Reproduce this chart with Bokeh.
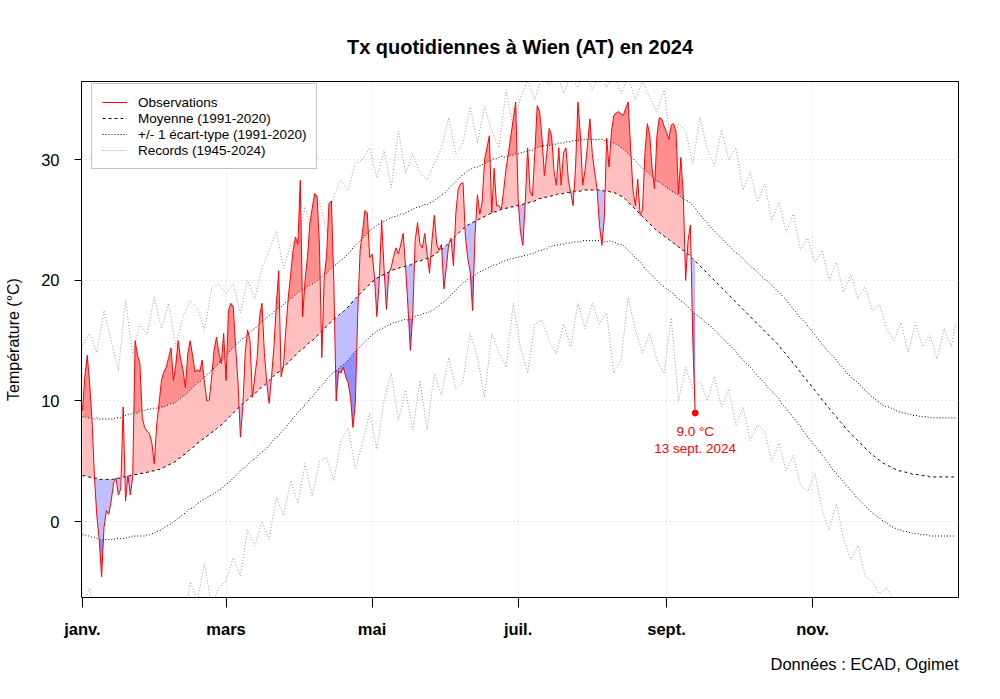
import numpy as np
from bokeh.plotting import figure
from bokeh.models import FixedTicker, Range1d, Legend, LegendItem, Title
from bokeh.embed import file_html
from bokeh.resources import INLINE
from bokeh.core.properties import value

# ---------------- data ----------------
month_days = [1, 61, 122, 183, 245, 306]
month_labels = ["janv.", "mars", "mai", "juil.", "sept.", "nov."]
y_ticks = [0, 10, 20, 30]

# daily maximum temperature 2024 (1 Jan .. 13 Sep)
obs_tx = [
    9.2, 12.0, 13.8, 11.5, 8.4, 3.7, 0.5, -1.5, -4.6, -0.5,
    0.9, 0.6, 1.7, 3.2, 3.6, 2.2, 2.7, 9.5, 1.7, 3.8,
    2.2, 3.7, 15.0, 13.8, 13.1, 8.6, 7.8, 7.5, 7.3, 6.5,
    4.8, 8.0, 9.8, 11.7, 12.4, 12.8, 13.6, 14.4, 11.7, 13.0,
    15.0, 13.5, 12.6, 11.1, 13.9, 15.0, 13.8, 12.4, 12.6, 12.4,
    13.4, 11.5, 10.0, 10.1, 12.0, 14.2, 15.3, 14.0, 13.1, 15.6,
    11.7, 17.5, 18.1, 17.8, 14.5, 11.5, 7.0, 9.5, 14.0, 15.9,
    15.0, 10.3, 12.0, 13.6, 17.0, 18.1, 14.0, 11.5, 9.8, 12.0,
    14.5, 18.0, 20.8, 12.0, 13.0, 16.0, 18.6, 20.5, 22.5, 23.6,
    23.0, 28.3, 17.0, 20.0, 21.9, 24.7, 26.0, 27.2, 27.0, 23.0,
    13.6, 20.3, 22.0, 26.4, 26.6, 20.0, 10.0, 12.5, 12.3, 12.8,
    12.0, 11.5, 10.3, 7.8, 9.8, 17.2, 22.5, 24.0, 25.8, 25.6,
    21.9, 22.2, 20.3, 17.0, 20.0, 25.0, 21.0, 17.6, 20.6, 21.1,
    22.0, 22.7, 22.2, 23.0, 23.9, 21.1, 17.8, 14.2, 17.2, 23.3,
    24.8, 23.0, 22.7, 23.9, 22.2, 20.6, 23.3, 25.4, 23.0, 22.5,
    23.0, 19.3, 21.0, 23.0, 23.5, 21.2, 25.6, 27.6, 28.0, 28.1,
    23.6, 21.8, 20.7, 17.5, 23.7, 27.1, 25.5, 26.5, 30.0, 31.0,
    32.0, 25.6, 29.3, 26.2, 26.2, 25.9, 27.5, 29.3, 30.6, 32.0,
    33.4, 34.8, 26.8, 24.0, 22.9, 26.5, 31.0, 27.4, 27.0, 30.6,
    34.5, 34.0, 31.8, 28.7, 30.5, 32.6, 32.0, 29.1, 27.9, 31.0,
    27.9, 30.6, 31.0, 28.3, 27.3, 26.2, 29.3, 34.8, 32.1, 27.9,
    29.2, 31.2, 33.4, 30.5, 29.0, 27.6, 24.6, 22.9, 25.1, 31.8,
    29.4, 32.3, 33.7, 33.9, 34.0, 33.8, 33.7, 34.3, 34.8, 31.0,
    27.5, 26.2, 28.4, 25.4, 25.9, 30.6, 33.0, 32.1, 29.3, 27.6,
    32.0, 33.5, 33.4, 32.8, 32.3, 31.7, 32.9, 33.0, 32.3, 27.2,
    30.2, 27.2, 20.0, 23.3, 24.6, 15.0, 9.0,
]

# 1991-2020 daily normal (mean) of Tx, 1 Jan .. 31 Dec
mean_tx = [
    3.8, 3.8, 3.7, 3.7, 3.6, 3.6, 3.6, 3.5, 3.5, 3.5,
    3.5, 3.5, 3.5, 3.5, 3.6, 3.6, 3.6, 3.7, 3.7, 3.8,
    3.8, 3.9, 3.9, 3.9, 4.0, 4.0, 4.0, 4.1, 4.1, 4.2,
    4.2, 4.3, 4.3, 4.4, 4.5, 4.6, 4.7, 4.8, 4.9, 5.0,
    5.2, 5.3, 5.5, 5.6, 5.8, 6.0, 6.1, 6.3, 6.5, 6.6,
    6.8, 6.9, 7.1, 7.2, 7.4, 7.5, 7.7, 7.9, 8.0, 8.2,
    8.4, 8.6, 8.8, 9.0, 9.2, 9.4, 9.6, 9.8, 9.9, 10.1,
    10.3, 10.5, 10.6, 10.8, 11.0, 11.2, 11.3, 11.5, 11.7, 11.9,
    12.1, 12.3, 12.4, 12.6, 12.8, 13.0, 13.2, 13.4, 13.6, 13.8,
    14.0, 14.2, 14.3, 14.5, 14.7, 14.9, 15.0, 15.2, 15.4, 15.6,
    15.8, 16.0, 16.2, 16.4, 16.6, 16.8, 16.9, 17.1, 17.3, 17.4,
    17.6, 17.8, 18.0, 18.3, 18.5, 18.7, 18.9, 19.1, 19.3, 19.5,
    19.7, 19.9, 20.0, 20.2, 20.3, 20.4, 20.5, 20.6, 20.7, 20.8,
    20.9, 20.9, 21.0, 21.1, 21.1, 21.2, 21.2, 21.3, 21.4, 21.5,
    21.6, 21.6, 21.7, 21.8, 21.8, 21.9, 22.0, 22.1, 22.3, 22.4,
    22.6, 22.7, 22.9, 23.1, 23.3, 23.5, 23.7, 23.9, 24.1, 24.3,
    24.4, 24.6, 24.7, 24.8, 24.9, 25.0, 25.1, 25.2, 25.3, 25.4,
    25.5, 25.6, 25.7, 25.7, 25.8, 25.9, 25.9, 26.0, 26.0, 26.1,
    26.1, 26.2, 26.2, 26.3, 26.3, 26.4, 26.4, 26.5, 26.5, 26.6,
    26.7, 26.8, 26.8, 26.9, 26.9, 27.0, 27.0, 27.1, 27.1, 27.2,
    27.2, 27.2, 27.3, 27.3, 27.3, 27.4, 27.4, 27.4, 27.4, 27.5,
    27.5, 27.5, 27.5, 27.5, 27.5, 27.5, 27.5, 27.5, 27.4, 27.4,
    27.4, 27.3, 27.3, 27.2, 27.1, 27.0, 26.9, 26.7, 26.5, 26.3,
    26.1, 25.9, 25.7, 25.5, 25.3, 25.1, 24.9, 24.7, 24.5, 24.3,
    24.1, 24.0, 23.8, 23.7, 23.5, 23.4, 23.2, 23.1, 22.9, 22.8,
    22.6, 22.5, 22.3, 22.2, 22.0, 21.8, 21.6, 21.4, 21.2, 21.0,
    20.8, 20.6, 20.4, 20.2, 20.0, 19.8, 19.6, 19.4, 19.2, 19.0,
    18.8, 18.6, 18.4, 18.2, 18.0, 17.8, 17.6, 17.4, 17.2, 17.0,
    16.8, 16.6, 16.4, 16.2, 16.0, 15.8, 15.6, 15.4, 15.2, 15.0,
    14.8, 14.6, 14.3, 14.1, 13.9, 13.6, 13.4, 13.1, 12.9, 12.6,
    12.4, 12.1, 11.9, 11.6, 11.4, 11.1, 10.9, 10.6, 10.4, 10.1,
    9.9, 9.6, 9.4, 9.1, 8.9, 8.7, 8.4, 8.2, 8.0, 7.7,
    7.5, 7.3, 7.1, 6.9, 6.7, 6.5, 6.3, 6.1, 5.9, 5.7,
    5.5, 5.4, 5.2, 5.1, 4.9, 4.8, 4.7, 4.6, 4.5, 4.4,
    4.3, 4.2, 4.2, 4.1, 4.1, 4.0, 4.0, 3.9, 3.9, 3.9,
    3.8, 3.8, 3.8, 3.8, 3.7, 3.7, 3.7, 3.7, 3.7, 3.7,
    3.7, 3.7, 3.7, 3.7, 3.7, 3.7,
]

# 1991-2020 daily standard deviation of Tx
sd_tx = [
    4.9, 4.9, 4.9, 4.9, 4.9, 4.9, 5.0, 5.0, 5.0, 5.0,
    5.0, 5.0, 5.0, 5.0, 5.0, 5.0, 5.0, 5.1, 5.1, 5.1,
    5.1, 5.1, 5.1, 5.1, 5.2, 5.2, 5.2, 5.2, 5.2, 5.2,
    5.2, 5.1, 5.1, 5.1, 5.0, 5.0, 5.0, 5.0, 4.9, 4.9,
    4.9, 4.9, 4.9, 4.9, 4.9, 4.9, 5.0, 5.0, 5.0, 5.0,
    5.0, 5.1, 5.1, 5.1, 5.2, 5.2, 5.2, 5.3, 5.3, 5.3,
    5.3, 5.4, 5.4, 5.4, 5.4, 5.4, 5.4, 5.4, 5.4, 5.4,
    5.4, 5.4, 5.4, 5.4, 5.4, 5.4, 5.4, 5.4, 5.4, 5.3,
    5.3, 5.3, 5.3, 5.2, 5.2, 5.2, 5.1, 5.1, 5.0, 5.0,
    5.0, 4.9, 4.9, 4.8, 4.8, 4.7, 4.7, 4.6, 4.6, 4.5,
    4.5, 4.5, 4.4, 4.4, 4.4, 4.4, 4.4, 4.4, 4.4, 4.4,
    4.4, 4.4, 4.4, 4.4, 4.4, 4.4, 4.4, 4.4, 4.4, 4.4,
    4.4, 4.4, 4.4, 4.4, 4.4, 4.4, 4.4, 4.4, 4.4, 4.4,
    4.4, 4.4, 4.4, 4.4, 4.4, 4.4, 4.5, 4.5, 4.5, 4.5,
    4.5, 4.5, 4.5, 4.5, 4.5, 4.5, 4.5, 4.5, 4.5, 4.5,
    4.5, 4.5, 4.5, 4.5, 4.5, 4.5, 4.5, 4.5, 4.5, 4.5,
    4.5, 4.5, 4.5, 4.5, 4.5, 4.4, 4.4, 4.4, 4.4, 4.4,
    4.4, 4.4, 4.4, 4.4, 4.4, 4.4, 4.3, 4.3, 4.3, 4.3,
    4.3, 4.3, 4.3, 4.3, 4.3, 4.3, 4.3, 4.3, 4.3, 4.3,
    4.3, 4.3, 4.3, 4.3, 4.3, 4.2, 4.2, 4.2, 4.2, 4.2,
    4.2, 4.2, 4.2, 4.2, 4.2, 4.2, 4.2, 4.2, 4.2, 4.2,
    4.2, 4.2, 4.2, 4.2, 4.2, 4.2, 4.2, 4.2, 4.2, 4.2,
    4.1, 4.1, 4.1, 4.1, 4.1, 4.0, 4.0, 4.0, 4.0, 4.0,
    4.0, 4.0, 4.0, 4.0, 4.0, 4.1, 4.1, 4.1, 4.1, 4.1,
    4.1, 4.2, 4.2, 4.2, 4.2, 4.2, 4.2, 4.2, 4.3, 4.3,
    4.3, 4.3, 4.3, 4.4, 4.4, 4.4, 4.4, 4.3, 4.3, 4.2,
    4.2, 4.2, 4.1, 4.1, 4.1, 4.1, 4.1, 4.1, 4.1, 4.1,
    4.1, 4.1, 4.1, 4.1, 4.2, 4.2, 4.2, 4.2, 4.2, 4.2,
    4.2, 4.3, 4.3, 4.3, 4.3, 4.3, 4.4, 4.4, 4.4, 4.4,
    4.4, 4.4, 4.5, 4.5, 4.5, 4.5, 4.5, 4.5, 4.5, 4.5,
    4.5, 4.6, 4.6, 4.6, 4.6, 4.6, 4.6, 4.6, 4.6, 4.6,
    4.6, 4.6, 4.6, 4.7, 4.7, 4.7, 4.7, 4.7, 4.7, 4.7,
    4.7, 4.7, 4.7, 4.8, 4.8, 4.8, 4.8, 4.8, 4.8, 4.8,
    4.8, 4.8, 4.8, 4.8, 4.8, 4.8, 4.8, 4.9, 4.9, 4.9,
    4.9, 4.9, 4.9, 4.9, 4.9, 4.9, 4.9, 4.9, 4.9, 4.9,
    4.9, 4.9, 4.9, 4.9, 4.9, 4.9, 4.9, 4.9, 4.9, 4.9,
    4.9, 4.9, 4.9, 4.9, 4.9, 4.9,
]

# records 1945-2024, read every third day
rec_days = list(range(1, 366, 3)) + [366]
rec_max = [
    14.6, 15.6, 14.0, 17.5, 15.0, 12.5, 18.3, 13.9, 16.4, 15.5,
    18.6, 16.0, 18.1, 14.5, 17.0, 18.3, 17.7, 15.9, 19.4, 19.7,
    18.9, 19.7, 17.3, 20.0, 18.5, 21.0, 22.5, 24.1, 21.0, 23.0,
    23.3, 26.1, 24.0, 26.6, 24.0, 27.0, 28.3, 27.5, 29.7, 30.0,
    31.0, 28.5, 30.8, 27.7, 32.4, 28.9, 30.5, 28.9, 28.3, 29.7,
    31.0, 33.5, 30.5, 31.4, 34.4, 31.4, 34.4, 32.4, 31.0, 35.8,
    32.6, 35.2, 36.6, 35.0, 37.0, 36.2, 37.5, 35.5, 37.0, 36.0,
    37.5, 35.8, 37.0, 36.0, 37.2, 35.5, 36.8, 35.0, 36.5, 35.2,
    34.0, 35.8, 31.0, 33.0, 32.4, 29.7, 33.5, 31.0, 29.5, 32.5,
    30.0, 31.0, 27.5, 29.0, 26.5, 28.0, 25.0, 26.5, 24.0, 25.5,
    22.5, 23.5, 21.5, 22.5, 20.0, 21.5, 19.0, 20.5, 18.5, 19.5,
    17.5, 18.0, 16.0, 15.0, 16.5, 14.0, 16.5, 14.5, 15.5, 13.5,
    16.0, 14.5, 16.5,
]
rec_min = [
    -7.0, -5.5, -9.0, -12.0, -14.0, -13.0, -12.0, -14.0, -11.0, -10.0,
    -12.0, -9.5, -10.5, -8.0, -9.5, -5.0, -6.5, -3.5, -7.0, -5.5,
    -4.9, -3.0, -4.5, -0.7, -2.0, 0.0, -1.5, 2.0, 0.5, 3.4,
    1.5, 4.8, 2.1, 5.0, 5.3, 3.4, 6.7, 7.8, 4.4, 6.5,
    9.0, 6.0, 10.0, 12.3, 8.4, 10.9, 7.6, 11.7, 7.6, 12.3,
    10.5, 13.6, 11.0, 11.7, 15.6, 13.6, 10.3, 15.6, 14.0, 12.8,
    18.1, 14.4, 12.3, 16.4, 16.7, 15.0, 13.9, 16.4, 14.5, 18.1,
    16.0, 18.1, 16.4, 17.3, 12.3, 13.4, 18.6, 15.9, 14.0, 15.6,
    13.4, 12.3, 16.9, 10.0, 12.8, 11.0, 11.7, 10.0, 12.0, 9.5,
    11.0, 8.0, 9.5, 6.7, 8.0, 7.5, 5.0, 6.5, 4.2, 5.5,
    3.0, 2.5, 4.0, 1.0, -0.7, 1.5, -1.5, -3.2, -2.0, -4.5,
    -5.0, -6.0, -5.5, -6.5, -8.0, -7.0, -9.0, -8.5, -10.0, -9.0,
    -7.5, -8.0, -7.0,
]

min_day = 257
min_value = 9.0
min_date_label = "13 sept. 2024"

FONT = "Liberation Sans"

# ---------------- derived geometry ----------------
n = min(len(mean_tx), len(sd_tx))
days_all = np.arange(1, n + 1)
mean_arr = np.array(mean_tx[:n], float)
sd_arr = np.array(sd_tx[:n], float)
upper_arr = mean_arr + sd_arr
lower_arr = mean_arr - sd_arr

o = np.array(obs_tx, float)
k = len(o)
d = np.arange(1, k + 1, dtype=float)
m = mean_arr[:k]
u = upper_arr[:k]
lo = lower_arr[:k]

# add the crossing points of the observation polyline with the reference curves
xs, os_, ms, us, ls = [], [], [], [], []
for i in range(k):
    xs.append(d[i]); os_.append(o[i]); ms.append(m[i]); us.append(u[i]); ls.append(lo[i])
    if i == k - 1:
        break
    ts = []
    for r in (m, u, lo):
        d0 = o[i] - r[i]
        d1 = o[i + 1] - r[i + 1]
        if d0 * d1 < 0:
            ts.append(d0 / (d0 - d1))
    for t in sorted(ts):
        xs.append(d[i] + t)
        os_.append(o[i] + t * (o[i + 1] - o[i]))
        ms.append(m[i] + t * (m[i + 1] - m[i]))
        us.append(u[i] + t * (u[i + 1] - u[i]))
        ls.append(lo[i] + t * (lo[i + 1] - lo[i]))
xs = np.array(xs); os_ = np.array(os_); ms = np.array(ms); us = np.array(us); ls = np.array(ls)

# ---------------- figure ----------------
p = figure(width=1000, height=699, output_backend="svg", toolbar_location=None,
           x_range=Range1d(0.6, 367), y_range=Range1d(-6.3, 36.5),
           min_border_left=81, min_border_right=42, min_border_top=81, min_border_bottom=102,
           background_fill_color="white", border_fill_color="white")

p.title.text = "Tx quotidiennes à Wien (AT) en 2024"
p.title.align = "center"
p.title.text_font = FONT
p.title.text_font_size = "20px"
p.title.text_font_style = "bold"
p.title.text_color = "black"
p.title.standoff = 47

cap = Title(text="Données : ECAD, Ogimet", align="right", text_font=FONT,
            text_font_size="16.5px", text_font_style="normal", text_color="black",
            standoff=25)
p.add_layout(cap, "below")

p.outline_line_color = "black"
p.outline_line_width = 1

# grid
p.xgrid.ticker = FixedTicker(ticks=month_days)
p.ygrid.ticker = FixedTicker(ticks=y_ticks)
for g in (p.xgrid, p.ygrid):
    g.grid_line_color = "#D3D3D3"
    g.grid_line_dash = "1 3"
    g.grid_line_width = 1

# axes
p.xaxis.ticker = FixedTicker(ticks=month_days)
p.xaxis.major_label_overrides = {dd: lab for dd, lab in zip(month_days, month_labels)}
p.xaxis.major_label_text_font = FONT
p.xaxis.major_label_text_font_size = "16.5px"
p.xaxis.major_label_text_font_style = "bold"
p.xaxis.major_label_text_color = "black"
p.xaxis.major_tick_out = 10
p.xaxis.major_tick_in = 0
p.xaxis.minor_tick_line_color = None
p.xaxis.axis_line_color = None
p.xaxis.major_tick_line_color = "black"
p.xaxis.major_label_standoff = 12

p.yaxis.ticker = FixedTicker(ticks=y_ticks)
p.yaxis.major_label_text_font = FONT
p.yaxis.major_label_text_font_size = "16.5px"
p.yaxis.major_label_text_color = "black"
p.yaxis.major_label_orientation = "horizontal"
p.yaxis.major_tick_out = 7
p.yaxis.major_tick_in = 0
p.yaxis.minor_tick_line_color = None
p.yaxis.axis_line_color = None
p.yaxis.major_tick_line_color = "black"
p.yaxis.major_label_standoff = 15
p.yaxis.axis_label = "Température (°C)"
p.yaxis.axis_label_text_font = FONT
p.yaxis.axis_label_text_font_size = "16px"
p.yaxis.axis_label_text_font_style = "normal"
p.yaxis.axis_label_text_color = "black"
p.yaxis.axis_label_standoff = 16

# records
r_rec = p.line(rec_days, rec_max, line_color="#9A9A9A", line_dash="1 2", line_width=1)
p.line(rec_days, rec_min, line_color="#9A9A9A", line_dash="1 2", line_width=1)

# fills between observations and the normals
p.varea(x=xs, y1=ms, y2=np.minimum(np.maximum(os_, ms), us), fill_color="#FFBFBF")
p.varea(x=xs, y1=us, y2=np.maximum(os_, us), fill_color="#FF8F8F")
p.varea(x=xs, y1=np.maximum(np.minimum(os_, ms), ls), y2=ms, fill_color="#BFBFFF")
p.varea(x=xs, y1=np.minimum(os_, ls), y2=ls, fill_color="#8F8FFF")

# normals
r_sd = p.line(days_all, upper_arr, line_color="black", line_dash="1 2", line_width=1)
p.line(days_all, lower_arr, line_color="black", line_dash="1 2", line_width=1)
r_mean = p.line(days_all, mean_arr, line_color="black", line_dash="3 3", line_width=1)

# observations
r_obs = p.line(d, o, line_color="red", line_width=1)

# minimum marker + annotation
p.scatter([min_day], [min_value], size=6, color="red")
p.text(x=[min_day], y=[min_value], text=[f"{min_value:.1f} °C"], text_align="center",
       text_baseline="middle", y_offset=18, text_color="red",
       text_font=value(FONT), text_font_size="13.5px")
p.text(x=[min_day], y=[min_value], text=[min_date_label], text_align="center",
       text_baseline="middle", y_offset=35, text_color="red",
       text_font=value(FONT), text_font_size="13.5px")

legend = Legend(items=[
    LegendItem(label="Observations", renderers=[r_obs]),
    LegendItem(label="Moyenne (1991-2020)", renderers=[r_mean]),
    LegendItem(label="+/- 1 écart-type (1991-2020)", renderers=[r_sd]),
    LegendItem(label="Records (1945-2024)", renderers=[r_rec]),
], location=(10, 428))
legend.margin = 0
legend.padding = 10
legend.spacing = 0
legend.label_height = 16
legend.glyph_height = 16
legend.glyph_width = 25
legend.label_standoff = 11
legend.label_text_font = FONT
legend.label_text_font_size = "13.5px"
legend.label_text_color = "black"
legend.border_line_color = "#888888"
legend.border_line_width = 1
legend.background_fill_color = "white"
legend.background_fill_alpha = 1.0
p.add_layout(legend, "center")

open("out.html", "w").write(file_html(p, INLINE))
